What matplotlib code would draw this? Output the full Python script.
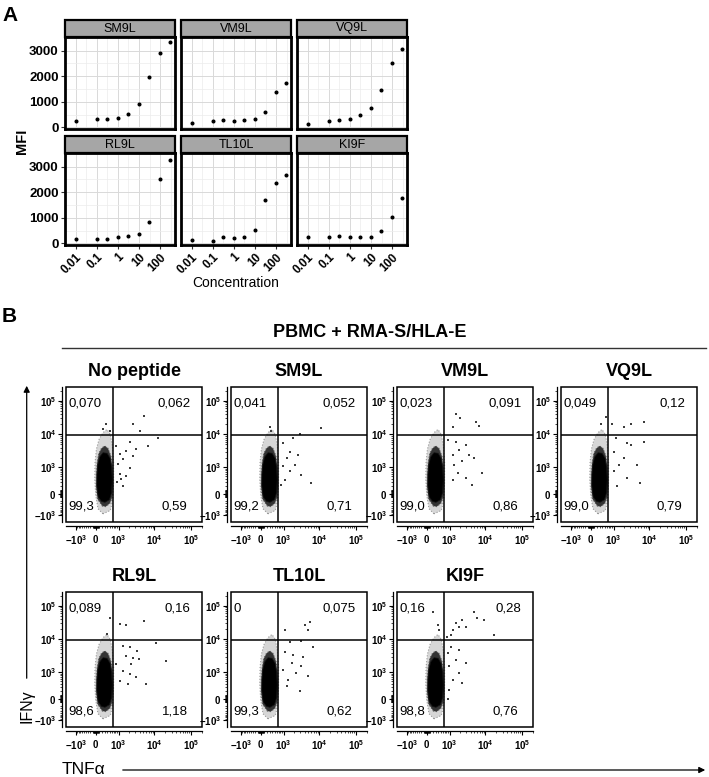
import numpy as np
import matplotlib
matplotlib.use("Agg")
import matplotlib.pyplot as plt
from matplotlib.patches import Rectangle, Polygon, FancyArrowPatch
from matplotlib.lines import Line2D
from matplotlib.ticker import NullFormatter

plt.rcParams['font.family'] = ['Liberation Sans', 'DejaVu Sans']
plt.rcParams['mathtext.fontset'] = 'custom'
plt.rcParams['mathtext.rm'] = 'Liberation Sans'
plt.rcParams['mathtext.bf'] = 'Liberation Sans:bold'

# ---- panel A data: MFI vs peptide concentration ----
conc = [0.01, 0.1, 0.3, 1, 3, 10, 30, 100, 300]
peptides = ['SM9L', 'VM9L', 'VQ9L', 'RL9L', 'TL10L', 'KI9F']
mfi_sm9l = [270, 340, 330, 350, 520, 920, 1950, 2920, 3350]
mfi_vm9l = [170, 250, 290, 270, 310, 320, 620, 1380, 1740]
mfi_vq9l = [145, 260, 300, 325, 470, 755, 1470, 2520, 3060]
mfi_rl9l = [165, 190, 180, 255, 280, 370, 820, 2500, 3260]
mfi_tl10l = [130, 115, 245, 220, 245, 510, 1690, 2350, 2690]
mfi_ki9f = [240, 240, 280, 255, 245, 240, 470, 1050, 1780]
conc_ticks = [0.01, 0.1, 1, 10, 100]
conc_labels = ['0.01', '0.1', '1', '10', '100']

# ---- panel B data: TNFa / IFNg flow plots ----
flow_titles = ['No peptide', 'SM9L', 'VM9L', 'VQ9L', 'RL9L', 'TL10L', 'KI9F']
quad_ul = ['0,070', '0,041', '0,023', '0,049', '0,089', '0', '0,16']
quad_ur = ['0,062', '0,052', '0,091', '0,12', '0,16', '0,075', '0,28']
quad_ll = ['99,3', '99,2', '99,0', '99,0', '98,6', '99,3', '98,8']
quad_lr = ['0,59', '0,71', '0,86', '0,79', '1,18', '0,62', '0,76']
gate_tnf = 670
gate_ifn = 9500

# outlines of the event cloud: dense core, inner and outer fringe
core_tnf = [190, 80, 35, 40, 70, 130, 240, 390, 520, 590, 620, 590, 490, 310]
core_ifn = [-230, -80, 200, 600, 1250, 2100, 2800, 2700, 1900, 1000, 380, 30, -170, -260]
inner_tnf = [220, 60, 15, 20, 45, 95, 185, 300, 430, 560, 640, 660, 620, 510, 340]
inner_ifn = [-420, -150, 150, 650, 1400, 2600, 3800, 4500, 3800, 2200, 950, 200, -100, -300, -440]
halo_tnf = [238, 73, 0, -36, -24, 22, 105, 238, 387, 530, 628, 694, 694, 660, 530]
halo_ifn = [-910, -560, -42, 400, 1440, 3600, 7000, 11200, 14000, 10000, 4500, 1440, 290, -146, -660]

# scattered single events
nopep_tnf = [5350, 2580, 4160, 12300, 365, 238, 500, 6600, 2080, 3160, 1680, 1080, 1340, 2580, 955, 2080, 1080, 1680, 1200, 1340, 890, 860]
nopep_ifn = [35500, 21000, 12600, 8000, 19800, 14000, 12600, 4500, 5700, 3600, 3200, 2500, 1800, 2250, 1250, 990, 600, 530, 400, 200, 290, 4500]
sm9l_tnf = [11300, 2900, 1930, 985, 1540, 1230, 2650, 2120, 985, 1540, 3200, 1100, 6100, 820, 305, 336]
sm9l_ifn = [15200, 10400, 7600, 5400, 3040, 1920, 2400, 1200, 1070, 740, 580, 380, 270, 230, 16900, 12600]
vm9l_tnf = [1540, 2040, 5450, 6800, 1300, 870, 1540, 2900, 1930, 1230, 3500, 2350, 1380, 4900, 1720, 2900, 8200, 1230, 4450]
vm9l_ifn = [41000, 30000, 23000, 17800, 16900, 6800, 6040, 4850, 3400, 2400, 2400, 1520, 1200, 1920, 650, 450, 650, 380, 230]
vq9l_tnf = [336, 546, 910, 2000, 3150, 7100, 7100, 1150, 2470, 3150, 1030, 2000, 1430, 4600, 1030, 2470, 5690, 1280]
vq9l_ifn = [21000, 33500, 19800, 16900, 21000, 23000, 6040, 7600, 5400, 4850, 3040, 1920, 1200, 1200, 740, 450, 270, 180]
rl9l_tnf = [1080, 1680, 5350, 1340, 2080, 3420, 1680, 2580, 3900, 860, 2330, 1340, 2080, 3160, 1080, 1890, 11100, 20500, 5950, 500, 387]
rl9l_ifn = [29500, 27000, 35500, 6300, 5700, 4500, 3200, 2820, 2500, 1800, 1800, 1120, 880, 690, 530, 400, 8000, 2250, 400, 45000, 14000]
tl10l_tnf = [1100, 4000, 5690, 4900, 1540, 3200, 6800, 1100, 1930, 3500, 1720, 3200, 985, 2350, 4900, 1380, 1230, 2900]
tl10l_ifn = [19000, 27000, 33500, 19000, 8500, 8800, 6040, 4280, 3400, 3040, 1920, 1520, 1200, 950, 740, 580, 320, 180]
ki9f_tnf = [4900, 6100, 9200, 2350, 1540, 2900, 1930, 1230, 17000, 1100, 820, 375, 440, 193, 1100, 1930, 870, 1540, 2900, 985, 1930, 1230, 2350, 985, 870]
ki9f_ifn = [66500, 43000, 38000, 38000, 30000, 24000, 24000, 19000, 13500, 13500, 11500, 27000, 19000, 66500, 6040, 4850, 3800, 2400, 1920, 1520, 950, 580, 450, 230, -10]

mfi_all = [mfi_sm9l, mfi_vm9l, mfi_vq9l, mfi_rl9l, mfi_tl10l, mfi_ki9f]
events = [(nopep_tnf, nopep_ifn), (sm9l_tnf, sm9l_ifn), (vm9l_tnf, vm9l_ifn), (vq9l_tnf, vq9l_ifn),
          (rl9l_tnf, rl9l_ifn), (tl10l_tnf, tl10l_ifn), (ki9f_tnf, ki9f_ifn)]

W, H = 709, 777
fig = plt.figure(figsize=(W / 100, H / 100), dpi=100)


def px_axes(x, y, w, h):
    return fig.add_axes([x / W, 1 - (y + h) / H, w / W, h / H])


def fpt(x, y):
    return (x / W, 1 - y / H)


# ------------------------------------------------------------------ panel A
fig.text(*fpt(2, 21), 'A', fontsize=15, fontweight='bold', va='baseline')
a_cols = [65, 181, 297]
a_rows = [37, 153]
for i, (name, vals) in enumerate(zip(peptides, mfi_all)):
    r, c = divmod(i, 3)
    ax = px_axes(a_cols[c], a_rows[r], 110, 92)
    ax.plot(conc, vals, 'o', ms=1.9, color='black', ls='none', zorder=3)
    ax.set_xscale('log')
    ax.set_xlim(0.006, 500)
    ax.set_ylim(-60, 3530)
    ax.set_xticks(conc_ticks)
    ax.set_xticks([10 ** (k + 0.5) for k in range(-3, 3)], minor=True)
    ax.xaxis.set_minor_formatter(NullFormatter())
    ax.set_yticks([0, 1000, 2000, 3000])
    ax.set_yticks([500, 1500, 2500, 3500], minor=True)
    ax.grid(which='major', color='#d9d9d9', lw=0.7)
    ax.grid(which='minor', color='#ececec', lw=0.5)
    ax.set_axisbelow(True)
    for s in ax.spines.values():
        s.set_linewidth(2)
        s.set_color('black')
    ax.tick_params(which='minor', length=0)
    ax.tick_params(which='major', length=3, width=0.8, color='#333333', pad=1.5)
    if c == 0:
        ax.set_yticklabels(['0', '1000', '2000', '3000'], fontsize=9.5, fontweight='bold')
    else:
        ax.set_yticklabels([])
        ax.tick_params(axis='y', length=0)
    if r == 0:
        ax.set_xticklabels([])
        ax.tick_params(axis='x', length=0)
    else:
        ax.set_xticklabels(conc_labels, rotation=45, ha='right', va='top',
                           rotation_mode='anchor', fontsize=8.5, fontweight='bold')
    ax.add_patch(Rectangle((0, 1), 1, 17 / 92, transform=ax.transAxes, clip_on=False,
                           fc='#a6a6a6', ec='black', lw=1.6, zorder=5))
    ax.text(0.5, 1 + 8.5 / 92, name, transform=ax.transAxes, ha='center', va='center',
            fontsize=9, zorder=6)

fig.text(*fpt(236, 283), 'Concentration', fontsize=10, ha='center', va='center')
fig.text(*fpt(22, 141), 'MFI', fontsize=10.5, fontweight='bold', rotation=90, ha='center', va='center')

# ------------------------------------------------------------------ panel B
fig.text(*fpt(2, 322), 'B', fontsize=15, fontweight='bold', va='baseline')
fig.text(*fpt(370, 337), 'PBMC + RMA-S/HLA-E', fontsize=13, fontweight='bold',
         ha='center', va='baseline')
fig.add_artist(Line2D([62 / W, 706 / W], [1 - 347.5 / H] * 2, color='#333333', lw=1.0))


def fwd_tnf(v):
    v = np.asarray(v, dtype=float)
    return np.where(v >= 0, np.arcsinh(v / 507), 0.87 * np.arcsinh(v / 507))


def inv_tnf(u):
    u = np.clip(np.asarray(u, dtype=float), -30, 30)
    return np.where(u >= 0, 507 * np.sinh(u), 507 * np.sinh(u / 0.87))


def fwd_ifn(v):
    v = np.asarray(v, dtype=float)
    return np.where(v >= 0, np.arcsinh(v / 326), 0.78 * np.arcsinh(v / 326))


def inv_ifn(u):
    u = np.clip(np.asarray(u, dtype=float), -30, 30)
    return np.where(u >= 0, 326 * np.sinh(u), 326 * np.sinh(u / 0.78))


major = [-1000, 0, 1000, 10000, 100000]
major_lbl = [r'$\mathbf{-10^3}$', r'$\mathbf{0}$', r'$\mathbf{10^3}$', r'$\mathbf{10^4}$', r'$\mathbf{10^5}$']
minor = [k * 10 ** e for e in range(1, 5) for k in range(1, 10) if k * 10 ** e not in (1000, 10000)]
minor += [-k * 10 ** e for e in (1, 2) for k in range(1, 10)] + [200000]

b_cols = [66, 231, 397, 561]
b_rows = [387, 592]
for i, title in enumerate(flow_titles):
    r, c = divmod(i, 4)
    left, top = b_cols[c], b_rows[r]
    ax = px_axes(left, top, 136, 135)
    ax.set_xscale('function', functions=(fwd_tnf, inv_tnf))
    ax.set_yscale('function', functions=(fwd_ifn, inv_ifn))
    ax.set_xlim(-2140, 197000)
    ax.set_ylim(-1920, 262144)

    ax.add_patch(Polygon(np.column_stack([halo_tnf, halo_ifn]), closed=True, fc='#d6d6d6',
                         ec='#9a9a9a', ls=':', lw=0.8, zorder=1))
    ax.add_patch(Polygon(np.column_stack([inner_tnf, inner_ifn]), closed=True, fc='#333333',
                         ec='#555555', ls=':', lw=0.8, zorder=1))
    ax.add_patch(Polygon(np.column_stack([core_tnf, core_ifn]), closed=True, fc='black',
                         ec='#111111', lw=0.5, zorder=2))
    ev_t, ev_i = events[i]
    ax.scatter(ev_t, ev_i, s=0.7, marker='s', c='#3c3c3c', lw=0, zorder=2)

    ax.axvline(gate_tnf, color='black', lw=1.1, zorder=4)
    ax.axhline(gate_ifn, color='black', lw=1.1, zorder=4)
    ax.add_patch(Rectangle((0, 0), 1, 1, transform=ax.transAxes, fill=False, lw=1.1,
                           ec='black', clip_on=False, zorder=5))
    for s in ('top', 'right'):
        ax.spines[s].set_visible(False)
    for s in ('left', 'bottom'):
        ax.spines[s].set_position(('outward', 3))
        ax.spines[s].set_linewidth(0.9)

    for axis in (ax.xaxis, ax.yaxis):
        axis.set_ticks(major)
        axis.set_ticks(minor, minor=True)
        axis.set_minor_formatter(NullFormatter())
    ax.set_xticklabels(major_lbl, fontsize=7)
    ax.set_yticklabels(major_lbl, fontsize=7)
    ax.tick_params(which='major', direction='out', length=3, width=0.8, pad=2)
    ax.tick_params(which='minor', direction='out', length=1.6, width=0.5)
    ax.tick_params(axis='y', pad=1)

    ax.text(0.015, 0.877, quad_ul[i], transform=ax.transAxes, fontsize=9.5, ha='left', va='center', zorder=6)
    ax.text(0.915, 0.877, quad_ur[i], transform=ax.transAxes, fontsize=9.5, ha='right', va='center', zorder=6)
    ax.text(0.015, 0.115, quad_ll[i], transform=ax.transAxes, fontsize=9.5, ha='left', va='center', zorder=6)
    ax.text(0.895, 0.115, quad_lr[i], transform=ax.transAxes, fontsize=9.5, ha='right', va='center', zorder=6)

    fig.text(*fpt(left + 68, top - 11), title, fontsize=13, fontweight='bold',
             ha='center', va='baseline')

# axis arrows
fig.add_artist(FancyArrowPatch(fpt(26.7, 681), fpt(26.7, 383), transform=fig.transFigure,
                               arrowstyle='-|>', mutation_scale=9, lw=0.9, color='black'))
fig.text(*fpt(27, 706), 'IFNγ', fontsize=11.5, rotation=90, ha='center', va='center')
fig.add_artist(FancyArrowPatch(fpt(120, 770), fpt(708, 770), transform=fig.transFigure,
                               arrowstyle='-|>', mutation_scale=9, lw=0.9, color='black'))
fig.text(*fpt(62, 770), 'TNFα', fontsize=12.5, ha='left', va='center')

fig.savefig('out.png', dpi=100)
